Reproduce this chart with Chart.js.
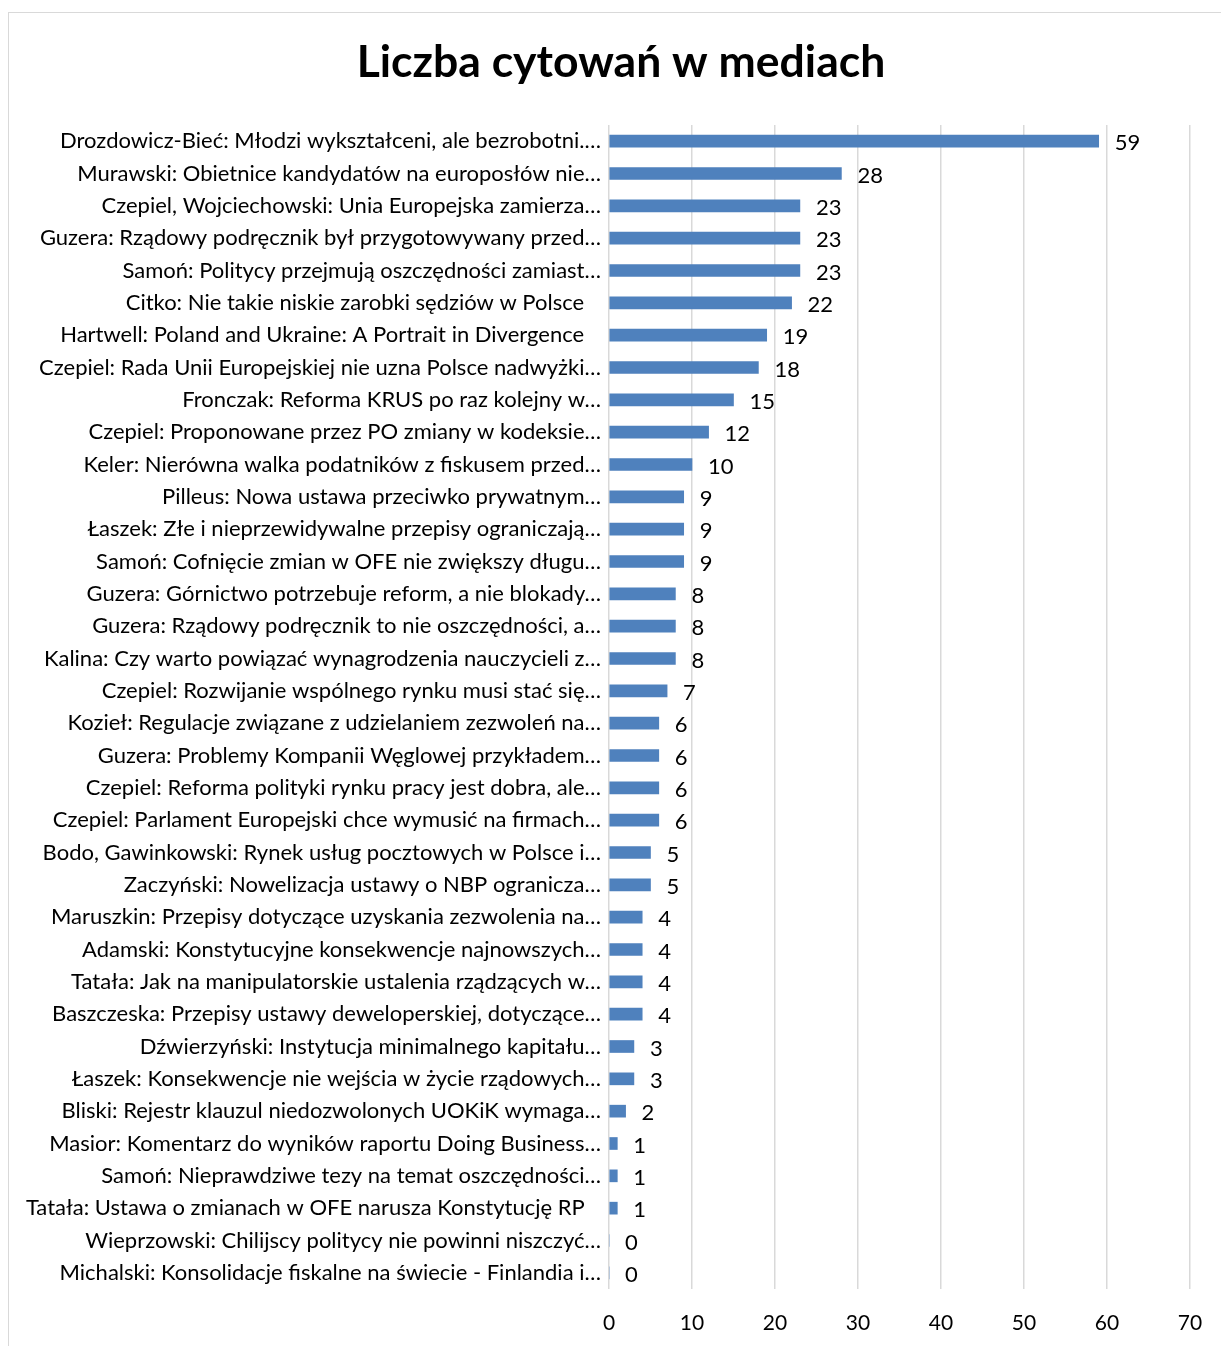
<!DOCTYPE html>
<html>
<head>
<meta charset="utf-8">
<script src="https://cdn.jsdelivr.net/npm/chart.js@4.4.0/dist/chart.umd.min.js"></script>
<style>
  html, body { margin: 0; padding: 0; background: #fff; overflow: hidden; }
  #ramka { position: absolute; left: 8px; top: 12px; width: 1240px; height: 1400px; border: 1.5px solid #d9d9d9; }
  #wykres { position: absolute; left: 0; top: 0; }
</style>
</head>
<body>
<div id="ramka"></div>
<canvas id="wykres" width="1221" height="1346"></canvas>
<script>
const tytul = 'Liczba cytowań w mediach';

const publikacje = [
  'Drozdowicz-Bieć: Młodzi wykształceni, ale bezrobotni.…',
  'Murawski: Obietnice kandydatów na europosłów nie…',
  'Czepiel, Wojciechowski: Unia Europejska zamierza…',
  'Guzera: Rządowy podręcznik był przygotowywany przed…',
  'Samoń: Politycy przejmują oszczędności zamiast…',
  'Citko: Nie takie niskie zarobki sędziów w Polsce',
  'Hartwell: Poland and Ukraine: A Portrait in Divergence',
  'Czepiel: Rada Unii Europejskiej nie uzna Polsce nadwyżki…',
  'Fronczak: Reforma KRUS po raz kolejny w…',
  'Czepiel: Proponowane przez PO zmiany w kodeksie…',
  'Keler: Nierówna walka podatników z fiskusem przed…',
  'Pilleus: Nowa ustawa przeciwko prywatnym…',
  'Łaszek: Złe i nieprzewidywalne przepisy ograniczają…',
  'Samoń: Cofnięcie zmian w OFE nie zwiększy długu…',
  'Guzera: Górnictwo potrzebuje reform, a nie blokady…',
  'Guzera: Rządowy podręcznik to nie oszczędności, a…',
  'Kalina: Czy warto powiązać wynagrodzenia nauczycieli z…',
  'Czepiel: Rozwijanie wspólnego rynku musi stać się…',
  'Kozieł: Regulacje związane z udzielaniem zezwoleń na…',
  'Guzera: Problemy Kompanii Węglowej przykładem…',
  'Czepiel: Reforma polityki rynku pracy jest dobra, ale…',
  'Czepiel: Parlament Europejski chce wymusić na firmach…',
  'Bodo, Gawinkowski: Rynek usług pocztowych w Polsce i…',
  'Zaczyński: Nowelizacja ustawy o NBP ogranicza…',
  'Maruszkin: Przepisy dotyczące uzyskania zezwolenia na…',
  'Adamski: Konstytucyjne konsekwencje najnowszych…',
  'Tatała: Jak na manipulatorskie ustalenia rządzących w…',
  'Baszczeska: Przepisy ustawy deweloperskiej, dotyczące…',
  'Dźwierzyński: Instytucja minimalnego kapitału…',
  'Łaszek: Konsekwencje nie wejścia w życie rządowych…',
  'Bliski: Rejestr klauzul niedozwolonych UOKiK wymaga…',
  'Masior: Komentarz do wyników raportu Doing Business…',
  'Samoń: Nieprawdziwe tezy na temat oszczędności…',
  'Tatała: Ustawa o zmianach w OFE narusza Konstytucję RP',
  'Wieprzowski: Chilijscy politycy nie powinni niszczyć…',
  'Michalski: Konsolidacje fiskalne na świecie - Finlandia i…'
];

const cytowania = [59, 28, 23, 23, 23, 22, 19, 18, 15, 12, 10, 9, 9, 9, 8, 8, 8, 7,
  6, 6, 6, 6, 5, 5, 4, 4, 4, 4, 3, 3, 2, 1, 1, 1, 0, 0];

const osX = { min: 0, max: 70, krok: 10 };

const czcionka = 'Lato, "Open Sans", sans-serif';

// tytul wysrodkowany na calej ramce
const tytulWykresu = {
  id: 'tytulWykresu',
  afterDraw(chart) {
    const ctx = chart.ctx;
    ctx.save();
    ctx.font = 'bold 44.5px ' + czcionka;
    ctx.fillStyle = '#000';
    ctx.textAlign = 'center';
    ctx.textBaseline = 'middle';
    ctx.fillText(tytul, 621, 63);
    ctx.restore();
  }
};

// etykiety wartosci na koncu slupkow
const etykietyWartosci = {
  id: 'etykietyWartosci',
  afterDatasetsDraw(chart) {
    const ctx = chart.ctx;
    const meta = chart.getDatasetMeta(0);
    ctx.save();
    ctx.font = '22px ' + czcionka;
    ctx.fillStyle = '#000';
    ctx.textAlign = 'left';
    ctx.textBaseline = 'middle';
    meta.data.forEach((bar, i) => {
      ctx.fillText(String(cytowania[i]), bar.x + 16, bar.y + 2);
    });
    ctx.restore();
  }
};

new Chart(document.getElementById('wykres'), {
  type: 'bar',
  data: {
    labels: publikacje,
    datasets: [{
      data: cytowania,
      backgroundColor: '#4f81bd',
      borderWidth: 0,
      barThickness: 12
    }]
  },
  options: {
    indexAxis: 'y',
    responsive: false,
    animation: false,
    events: [],
    layout: { padding: { left: 0, right: 31, top: 125, bottom: 10 } },
    plugins: {
      legend: { display: false },
      tooltip: { enabled: false },
      title: { display: false }
    },
    scales: {
      x: {
        min: osX.min,
        max: osX.max,
        afterFit(scale) {
          scale.height = 47;
          scale.paddingLeft = 0;
          scale.paddingRight = 0;
        },
        ticks: {
          stepSize: osX.krok,
          color: '#000',
          padding: 22,
          font: { family: czcionka, size: 21 }
        },
        grid: { color: '#d9d9d9', lineWidth: 1.5, drawTicks: false },
        border: { display: false }
      },
      y: {
        afterFit(scale) { scale.width = 609; },
        ticks: {
          autoSkip: false,
          color: '#000',
          padding: 0,
          font: { family: czcionka, size: 22 },
          callback(value) {
            const t = this.getLabelForValue(value);
            return t.endsWith('…') ? t : t + '\u00a0\u00a0\u00a0';
          }
        },
        grid: { display: false },
        border: { display: false }
      }
    }
  },
  plugins: [etykietyWartosci, tytulWykresu]
});
</script>
</body>
</html>
